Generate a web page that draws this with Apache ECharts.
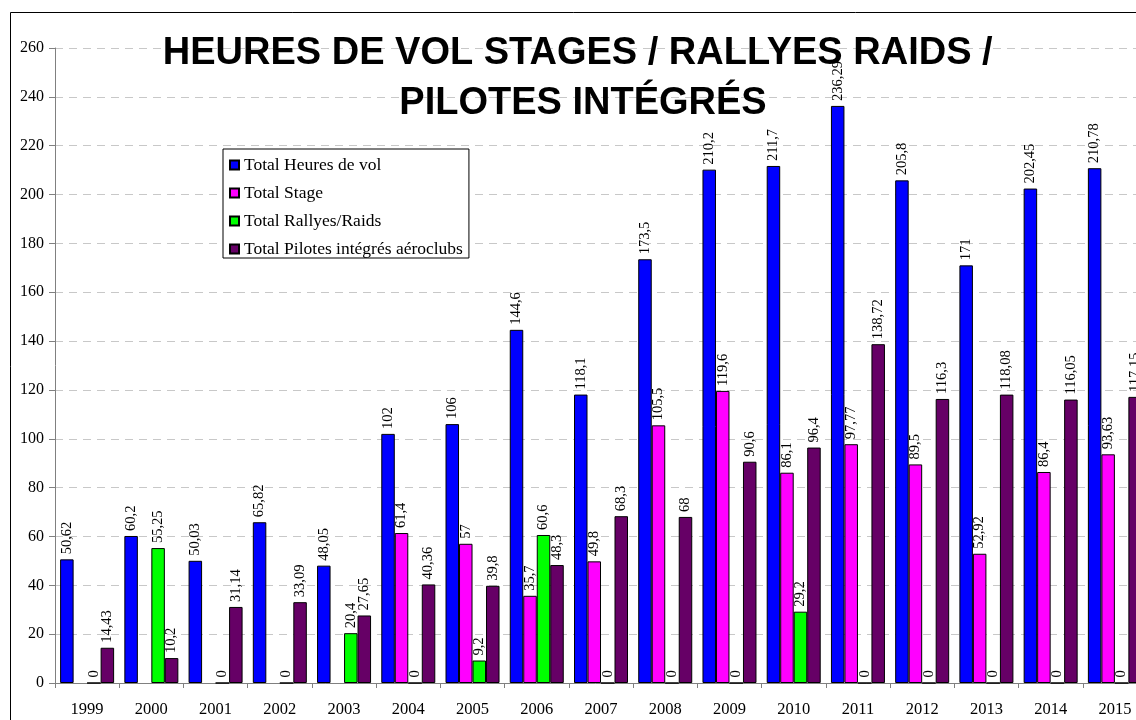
<!DOCTYPE html>
<html>
<head>
<meta charset="utf-8">
<title>Heures de vol</title>
<script src="https://cdn.jsdelivr.net/npm/echarts@6/dist/echarts.min.js"></script>
<style>
  html, body { margin: 0; padding: 0; background: #fff; }
  #chart { width: 1136px; height: 720px; }
</style>
</head>
<body>
<div id="chart"></div>
<script>
// données du graphique
var annees = ["1999", "2000", "2001", "2002", "2003", "2004", "2005", "2006", "2007",
  "2008", "2009", "2010", "2011", "2012", "2013", "2014", "2015"];
var totalHeures = [50.62, 60.2, 50.03, 65.82, 48.05, 102, 106, 144.6, 118.1,
  173.5, 210.2, 211.7, 236.29, 205.8, 171, 202.45, 210.78];
var totalStage = [null, null, null, null, null, 61.4, 57, 35.7, 49.8,
  105.5, 119.6, 86.1, 97.77, 89.5, 52.92, 86.4, 93.63];
var totalRallyes = [0, 55.25, 0, 0, 20.4, 0, 9.2, 60.6, 0,
  0, 0, 29.2, 0, 0, 0, 0, 0];
var totalPilotes = [14.43, 10.2, 31.14, 33.09, 27.65, 40.36, 39.8, 48.3, 68.3,
  68, 90.6, 96.4, 138.72, 116.3, 118.08, 116.05, 117.15];
var yTicks = { min: 0, max: 260, interval: 20 };

var serif = "'Liberation Serif', 'Times New Roman', serif";

var chart = echarts.init(document.getElementById("chart"), null, { renderer: "canvas" });

// une série de barres
function serie(nom, data, couleur) {
  return {
    name: nom,
    type: "bar",
    data: data,
    barWidth: 13.5,
    barGap: "0%",
    itemStyle: { color: couleur, borderColor: "#000", borderWidth: 1 },
    label: {
      show: true,
      position: "top",
      rotate: 90,
      align: "left",
      verticalAlign: "middle",
      distance: 5,
      color: "#000",
      fontFamily: serif,
      fontSize: 14.5,
      formatter: function (p) {
        return String(p.value).replace(".", ",");
      },
    },
  };
}

var option = {
  animation: false,
  backgroundColor: "#fff",
  title: {
    // espace final comme dans l'original (centrage décalé)
    text: "HEURES DE VOL STAGES / RALLYES RAIDS / \nPILOTES INTÉGRÉS",
    left: 578,
    top: 24,
    textAlign: "center",
    textStyle: {
      fontFamily: "'Liberation Sans', Arial, sans-serif",
      fontWeight: "bold",
      fontSize: 38,
      lineHeight: 50,
      color: "#000",
    },
  },
  legend: {
    orient: "vertical",
    left: 223,
    top: 149,
    padding: [7, 6, 0, 6],
    itemGap: 10,
    itemWidth: 9,
    itemHeight: 9,
    icon: "rect",
    backgroundColor: "#fff",
    borderColor: "#000",
    borderWidth: 1,
    borderRadius: 0,
    textStyle: { fontFamily: serif, fontSize: 17.5, color: "#000" },
  },
  grid: { left: 55, top: 48, width: 1092, height: 635, outerBoundsMode: "none" },
  xAxis: {
    type: "category",
    data: annees,
    axisLine: { lineStyle: { color: "#808080", width: 1 } },
    axisTick: { show: true, length: 5, lineStyle: { color: "#808080" } },
    axisLabel: { color: "#000", fontFamily: serif, fontSize: 16.5, margin: 18 },
  },
  yAxis: {
    type: "value",
    min: yTicks.min,
    max: yTicks.max,
    interval: yTicks.interval,
    axisLine: { show: true, lineStyle: { color: "#808080", width: 1 } },
    axisTick: { show: true, length: 6, lineStyle: { color: "#808080" } },
    axisLabel: { color: "#000", fontFamily: serif, fontSize: 16, margin: 11 },
    splitLine: { lineStyle: { color: "#c8c8c8", type: [8, 6], width: 1 } },
  },
  graphic: [
    {
      type: "rect",
      silent: true,
      shape: { x: 10.5, y: 12.5, width: 1200, height: 800 },
      style: { fill: null, stroke: "#000", lineWidth: 1 },
      z: 100,
    },
  ],
  series: [
    serie("Total Heures de vol", totalHeures, "#0000ff"),
    serie("Total Stage", totalStage, "#ff00ff"),
    serie("Total Rallyes/Raids", totalRallyes, "#00ff00"),
    serie("Total Pilotes intégrés aéroclubs", totalPilotes, "#660066"),
  ],
};

chart.setOption(option);
</script>
</body>
</html>
